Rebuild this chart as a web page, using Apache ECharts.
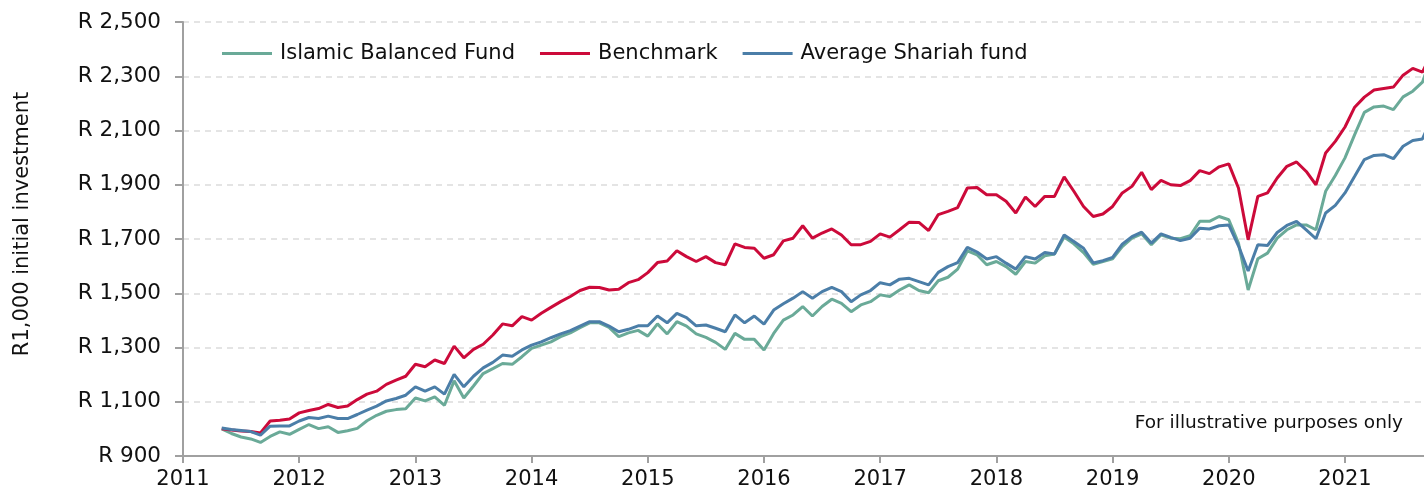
<!DOCTYPE html>
<html>
<head>
<meta charset="utf-8">
<script src="https://cdn.jsdelivr.net/npm/echarts@6/dist/echarts.min.js"></script>
<style>html,body{margin:0;padding:0;background:#fff}#c{width:1424px;height:493px}</style>
</head>
<body>
<div id="c"></div>
<script>
// Monthly observations starting April 2011 (index 0)
const startYear = 2011, startMonth = 4;
const seriesNames = ['Islamic Balanced Fund', 'Benchmark', 'Average Shariah fund'];
const islamicBalanced = [1000,983,970,963,950,972,989,980,998,1016,1001,1008,987,993,1002,1030,1050,1065,1071,1074,
1114,1103,1118,1087,1177,1114,1158,1204,1222,1241,1238,1266,1297,1309,1321,1340,1354,1373,1391,1391,
1374,1340,1354,1363,1342,1387,1350,1395,1379,1350,1337,1319,1293,1352,1330,1330,1291,1352,1401,1420,
1451,1416,1451,1478,1463,1432,1457,1469,1494,1488,1512,1531,1510,1502,1546,1559,1589,1656,1642,1605,
1617,1598,1570,1617,1611,1638,1645,1707,1682,1650,1607,1617,1627,1672,1703,1719,1679,1715,1703,1701,
1712,1765,1765,1783,1771,1685,1512,1627,1648,1703,1734,1752,1752,1734,1876,1934,1999,2085,2167,2187,
2190,2177,2224,2245,2278,2380];
const benchmark = [1000,996,992,990,985,1029,1032,1036,1059,1068,1075,1090,1079,1084,1108,1128,1139,1164,1180,1194,
1238,1229,1254,1241,1305,1262,1293,1312,1346,1387,1380,1414,1401,1426,1448,1469,1488,1510,1522,1521,
1512,1515,1539,1550,1576,1613,1619,1657,1635,1617,1635,1613,1605,1682,1669,1666,1629,1642,1693,1703,
1749,1703,1722,1737,1715,1679,1679,1691,1719,1707,1734,1762,1761,1731,1790,1802,1816,1888,1890,1863,
1863,1839,1796,1855,1820,1857,1857,1929,1876,1820,1783,1792,1820,1870,1894,1946,1882,1916,1900,1897,
1915,1952,1941,1966,1977,1888,1697,1857,1870,1925,1968,1984,1949,1900,2017,2060,2113,2186,2223,2249,
2255,2260,2304,2329,2315,2390];
const averageShariah = [1003,998,994,990,977,1010,1011,1011,1029,1042,1038,1047,1038,1038,1053,1069,1084,1103,1112,1124,
1155,1139,1155,1128,1201,1155,1194,1225,1245,1272,1268,1291,1309,1321,1336,1350,1362,1379,1395,1395,
1379,1358,1367,1380,1380,1416,1391,1426,1410,1380,1383,1371,1358,1420,1391,1416,1386,1438,1461,1482,
1506,1482,1506,1522,1506,1469,1494,1510,1539,1531,1552,1555,1543,1531,1577,1598,1613,1669,1652,1626,
1635,1611,1589,1635,1626,1650,1645,1715,1691,1666,1612,1620,1632,1681,1709,1725,1685,1719,1706,1694,
1703,1740,1737,1749,1752,1675,1582,1679,1676,1724,1750,1765,1734,1701,1796,1824,1870,1931,1993,2008,
2011,1996,2042,2063,2069,2150];
const yTicks = [900,1100,1300,1500,1700,1900,2100,2300,2500];
const xTickYears = [2011,2012,2013,2014,2015,2016,2017,2018,2019,2020,2021];
const colors = ['#6aaa98', '#cc0a3a', '#4b7ea8'];

// time position (decimal year) for each monthly observation
const t = islamicBalanced.map((_, i) => startYear + (startMonth + i) / 12);
const pair = arr => arr.map((v, i) => [t[i], v]);

const FONT = 'DejaVu Sans, Verdana, sans-serif';
const chart = echarts.init(document.getElementById('c'), null, {renderer: 'canvas'});
chart.setOption({
  animation: false,
  backgroundColor: '#fff',
  color: colors,
  grid: {left: 183, right: 0, top: 22, bottom: 37, containLabel: false},
  legend: {
    left: 222, top: 43, padding: 0,
    icon: 'rect', itemWidth: 50, itemHeight: 3, itemGap: 25,
    textStyle: {fontFamily: FONT, fontSize: 21, color: '#111', padding: [0, 0, 0, 3]},
    data: seriesNames
  },
  xAxis: {
    type: 'value', min: xTickYears[0], max: 2021.68, interval: 1,
    axisLine: {show: true, lineStyle: {color: '#a0a0a0', width: 2}},
    axisTick: {show: true, length: 7, lineStyle: {color: '#a0a0a0', width: 2}},
    axisLabel: {
      fontFamily: FONT, fontSize: 21, color: '#111', margin: 13, showMaxLabel: false,
      formatter: v => (xTickYears.indexOf(Math.round(v * 1000) / 1000) >= 0 ? String(v) : '')
    },
    splitLine: {show: false}
  },
  yAxis: {
    type: 'value', min: yTicks[0], max: yTicks[yTicks.length - 1], interval: 200,
    axisLine: {show: true, lineStyle: {color: '#a0a0a0', width: 2}},
    axisTick: {show: true, inside: false, length: 8, lineStyle: {color: '#a0a0a0', width: 2}},
    axisLabel: {
      fontFamily: FONT, fontSize: 21.5, color: '#111', margin: 22,
      formatter: v => 'R ' + v.toLocaleString('en-US')
    },
    splitLine: {show: true, lineStyle: {color: '#dcdcdc', type: [6, 5], width: 1.5}}
  },
  graphic: [
    {
      type: 'text', x: 23, y: 224, rotation: Math.PI / 2,
      style: {text: 'R1,000 initial investment', fontFamily: FONT, fontSize: 21, fill: '#111',
              align: 'center', verticalAlign: 'middle'}
    },
    {
      type: 'text', x: 1403, y: 423,
      style: {text: 'For illustrative purposes only', fontFamily: FONT, fontSize: 18.5, fill: '#111',
              align: 'right', verticalAlign: 'middle'}
    }
  ],
  series: [
    {name: seriesNames[0], type: 'line', data: pair(islamicBalanced), symbol: 'none', lineStyle: {width: 3}, z: 2},
    {name: seriesNames[1], type: 'line', data: pair(benchmark), symbol: 'none', lineStyle: {width: 3}, z: 3},
    {name: seriesNames[2], type: 'line', data: pair(averageShariah), symbol: 'none', lineStyle: {width: 3}, z: 4}
  ]
});
</script>
</body>
</html>
